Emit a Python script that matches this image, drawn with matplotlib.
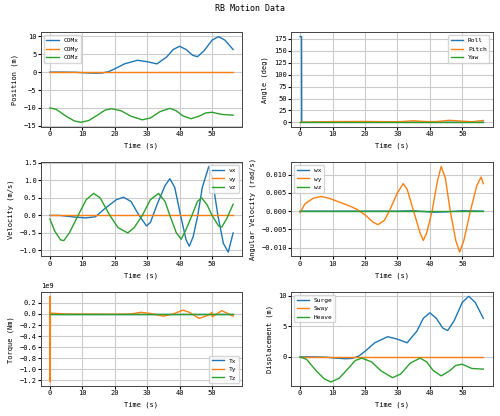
import matplotlib
matplotlib.use("Agg")
import matplotlib.pyplot as plt

plt.rcParams['font.family'] = ['DejaVu Sans Mono']
plt.rcParams['font.size'] = 5

# position (m)
t_pos  = [0, 4, 8, 11, 14, 16, 18, 20, 23, 27, 30, 33, 36, 38, 40, 42, 44, 45.5, 47.5, 50, 52, 54, 56.5]
com_x  = [0, 0, -0.05, -0.2, -0.3, -0.25, 0.1, 0.9, 2.3, 3.3, 2.9, 2.3, 4.2, 6.3, 7.2, 6.3, 4.7, 4.3, 5.9, 8.9, 9.9, 8.9, 6.3]
t_z    = [0, 2, 5, 7.5, 9.5, 12, 15, 17, 19, 22, 25, 28.5, 31, 34, 37, 39, 41, 43.5, 46, 48, 50, 53, 56.5]
com_z  = [-10, -10.4, -12.3, -13.6, -14, -13.5, -11.8, -10.6, -10.2, -10.8, -12.3, -13.3, -12.8, -11, -10.1, -10.8, -12.2, -13, -12.3, -11.4, -11.2, -11.8, -12]

# angles (deg)
t_roll = [0, 0.45, 0.5, 56.5]
roll   = [180, 180, 0, 0]
t_pit  = [0, 5, 10, 20, 28, 31, 35, 39, 42, 46, 50, 53, 56.5]
pitch  = [0, 0.8, 1.5, 1.8, 1.2, 1.5, 3.2, 1.5, 1.5, 4.2, 2.5, 1.2, 3.8]

# velocity (m/s)
t_vx = [0, 3, 8, 11, 14, 17, 20.5, 22.7, 25, 27.5, 29.8, 31, 33, 35.5, 37, 38.5, 40.3, 42, 43, 44.2, 45.6, 47, 49, 50, 51.8, 53.5, 55, 56.5]
vx   = [0, 0.0, -0.05, -0.07, -0.04, 0.2, 0.45, 0.52, 0.4, 0, -0.3, -0.2, 0.3, 0.85, 1.05, 0.8, 0, -0.7, -0.88, -0.6, 0, 0.8, 1.4, 1.1, 0, -0.8, -1.05, -0.5]
t_vz = [0, 1.5, 3.3, 4.3, 6, 8.7, 11.2, 13.5, 15.5, 18.5, 21, 24, 26, 28.5, 31, 33.5, 35.5, 37, 39, 40.5, 42, 43.8, 45.5, 46.8, 48.5, 50, 52, 53, 54.5, 56.5]
vz   = [-0.1, -0.45, -0.7, -0.72, -0.5, 0, 0.45, 0.63, 0.5, 0, -0.35, -0.5, -0.35, 0, 0.45, 0.63, 0.4, 0, -0.5, -0.68, -0.4, 0, 0.4, 0.5, 0.3, 0, -0.3, -0.33, -0.1, 0.32]

# angular velocity (rad/s)
t_wy = [0, 1.5, 4, 6.5, 9, 12, 15, 17.5, 20, 22.5, 24, 26, 27.5, 30, 31.8, 33, 35, 37, 38, 39, 40.7, 42.3, 43.5, 44.8, 46.3, 48, 49.2, 50.5, 52.5, 54.5, 55.8, 56.5]
wy   = [-0.0004, 0.002, 0.0035, 0.004, 0.0035, 0.0025, 0.0015, 0.0005, -0.001, -0.003, -0.0037, -0.0025, 0, 0.005, 0.0075, 0.006, 0, -0.006, -0.008, -0.006, 0, 0.008, 0.0122, 0.009, 0, -0.008, -0.0112, -0.008, 0, 0.007, 0.0093, 0.0075]
t_wx = [0, 30, 35, 41, 45, 50, 56.5]
wx   = [0, 0, 0.0001, -0.0003, -0.0002, 0.0001, 0]

# torque (Nm)
t_ty = [0, 0.05, 0.1, 0.15, 5, 20, 25, 28, 31, 35, 38, 41, 43, 46, 49, 50, 50.1, 53, 56.5]
ty   = [0, 3.2e8, -1.23e9, 1.5e7, 0, -5e6, 0, 3e7, 1e7, -4e7, 0, 7e7, 3e7, -8e7, -2e7, 3e7, -5e7, 6e7, -4e7]
torque_ticks = [-1.2e9, -1.0e9, -0.8e9, -0.6e9, -0.4e9, -0.2e9, 0, 0.2e9]

# displacement (m)
t_heave = [0, 2, 5, 7.5, 9.5, 12, 15, 17, 19, 22, 25, 28.5, 31, 34, 37, 39, 41, 43.5, 46, 48, 50, 53, 56.5]
heave   = [0, -0.4, -2.3, -3.6, -4.1, -3.5, -1.8, -0.6, -0.2, -0.8, -2.3, -3.4, -2.8, -1.0, -0.2, -0.8, -2.2, -3.1, -2.3, -1.4, -1.2, -1.9, -2]

blue, orange, green = '#1f77b4', '#ff7f0e', '#2ca02c'

fig, axs = plt.subplots(3, 2, figsize=(5, 4.16), dpi=100)
fig.suptitle('RB Motion Data', fontsize=6, y=0.99)

def style(ax, ylabel):
    ax.grid(True, color='#cccccc', linewidth=0.8)
    ax.set_xlabel('Time (s)')
    ax.set_ylabel(ylabel)
    ax.tick_params(length=2, pad=1)
    for s in ax.spines.values():
        s.set_color('#444444')
        s.set_linewidth(0.7)

ax = axs[0, 0]
ax.plot(t_pos, com_x, color=blue, lw=1, label='COMx')
ax.plot([0, 56.5], [0, 0], color=orange, lw=1, label='COMy')
ax.plot(t_z, com_z, color=green, lw=1, label='COMz')
ax.set_yticks([-15, -10, -5, 0, 5, 10])
style(ax, 'Position (m)')
ax.legend(loc='upper left', fontsize=4.5)

ax = axs[0, 1]
ax.plot(t_roll, roll, color=blue, lw=1, label='Roll')
ax.plot(t_pit, pitch, color=orange, lw=1, label='Pitch')
ax.plot([0, 56.5], [0, 0], color=green, lw=1, label='Yaw')
ax.set_yticks([0, 25, 50, 75, 100, 125, 150, 175])
style(ax, 'Angle (deg)')
ax.legend(loc='upper right', fontsize=4.5)

ax = axs[1, 0]
ax.plot(t_vx, vx, color=blue, lw=1, label='vx')
ax.plot([0, 56.5], [0, 0], color=orange, lw=1, label='vy')
ax.plot(t_vz, vz, color=green, lw=1, label='vz')
style(ax, 'Velocity (m/s)')
ax.legend(loc='upper right', fontsize=4.5)

ax = axs[1, 1]
ax.plot(t_wx, wx, color=blue, lw=1, label='wx')
ax.plot(t_wy, wy, color=orange, lw=1, label='wy')
ax.plot([0, 56.5], [0, 0], color=green, lw=1, label='wz')
style(ax, 'Angular Velocity (rad/s)')
ax.legend(loc='upper left', fontsize=4.5)

ax = axs[2, 0]
ax.plot([0, 56.5], [0, 0], color=blue, lw=1, label='Tx')
ax.plot(t_ty, ty, color=orange, lw=1, label='Ty')
ax.plot([0, 56.5], [0, 0], color=green, lw=1, label='Tz')
ax.set_yticks(torque_ticks)
style(ax, 'Torque (Nm)')
ax.yaxis.get_offset_text().set_fontsize(5)
ax.legend(loc='lower right', fontsize=4.5)

ax = axs[2, 1]
ax.plot(t_pos, com_x, color=blue, lw=1, label='Surge')
ax.plot([0, 56.5], [0, 0], color=orange, lw=1, label='Sway')
ax.plot(t_heave, heave, color=green, lw=1, label='Heave')
style(ax, 'Displacement (m)')
ax.legend(loc='upper left', fontsize=4.5)

for a in axs.flat:
    a.set_xticks([0, 10, 20, 30, 40, 50])

fig.tight_layout(rect=[0, 0, 1, 0.98], h_pad=0.6, w_pad=1.0)
fig.savefig('out.png')
